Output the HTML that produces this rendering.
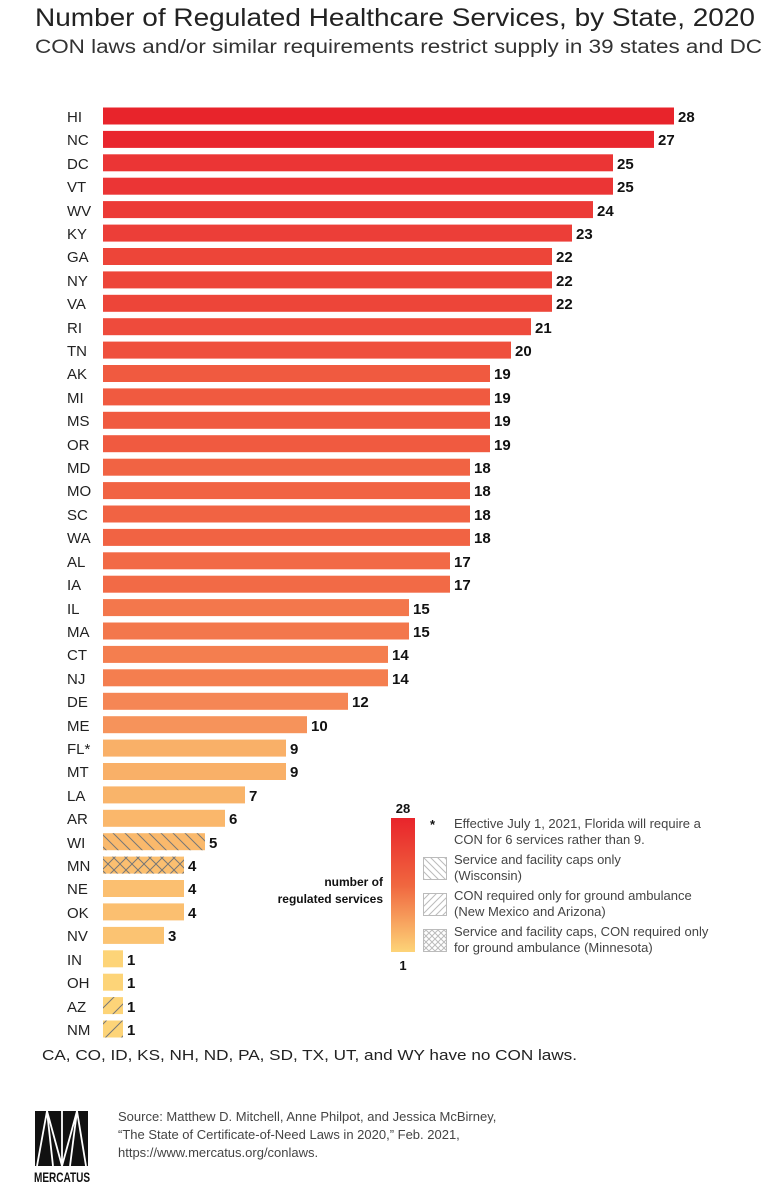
<!DOCTYPE html>
<html><head><meta charset="utf-8"><style>
html,body{margin:0;padding:0;background:#fff}
svg{display:block;font-family:"Liberation Sans",sans-serif}
</style></head><body>
<svg width="768" height="1185" viewBox="0 0 768 1185" xmlns="http://www.w3.org/2000/svg">
<defs>
<linearGradient id="lg" x1="0" y1="0" x2="0" y2="1">
<stop offset="0" stop-color="#e8242b"/><stop offset="0.5" stop-color="#f0663f"/><stop offset="1" stop-color="#fdd478"/>
</linearGradient>
<pattern id="pb" width="12" height="12" patternUnits="userSpaceOnUse"><path d="M-3,-3 L15,15 M-3,9 L3,15 M9,-3 L15,3" stroke="#777" stroke-width="1"/></pattern>
<pattern id="pf" width="16" height="16" patternUnits="userSpaceOnUse" patternTransform="translate(103,0)"><path d="M0,16 L16,0 M-4,4 L4,-4 M12,20 L20,12" stroke="#777" stroke-width="1"/></pattern>
<pattern id="px" width="12" height="12" patternUnits="userSpaceOnUse"><path d="M0,0 L12,12 M12,0 L0,12" stroke="#777" stroke-width="1"/></pattern>
<pattern id="lb" width="7" height="7" patternUnits="userSpaceOnUse"><path d="M-2,-2 L9,9 M-2,5 L2,9 M5,-2 L9,2" stroke="#bbb" stroke-width="1"/></pattern>
<pattern id="lf" width="7" height="7" patternUnits="userSpaceOnUse"><path d="M0,7 L7,0 M-2,2 L2,-2 M5,9 L9,5" stroke="#bbb" stroke-width="1"/></pattern>
<pattern id="lx" width="6" height="6" patternUnits="userSpaceOnUse"><path d="M0,0 L6,6 M6,0 L0,6" stroke="#bbb" stroke-width="1"/></pattern>
</defs>
<text x="35" y="26" font-size="25" fill="#222" textLength="720" lengthAdjust="spacingAndGlyphs">Number of Regulated Healthcare Services, by State, 2020</text>
<text x="35" y="53" font-size="19" fill="#333" textLength="727" lengthAdjust="spacingAndGlyphs">CON laws and/or similar requirements restrict supply in 39 states and DC</text>

<g font-size="15" fill="#222">
<text x="67" y="122">HI</text><text x="67" y="145">NC</text><text x="67" y="169">DC</text><text x="67" y="192">VT</text><text x="67" y="216">WV</text><text x="67" y="239">KY</text><text x="67" y="262">GA</text><text x="67" y="286">NY</text><text x="67" y="309">VA</text><text x="67" y="333">RI</text><text x="67" y="356">TN</text><text x="67" y="379">AK</text><text x="67" y="403">MI</text><text x="67" y="426">MS</text><text x="67" y="450">OR</text><text x="67" y="473">MD</text><text x="67" y="496">MO</text><text x="67" y="520">SC</text><text x="67" y="543">WA</text><text x="67" y="567">AL</text><text x="67" y="590">IA</text><text x="67" y="614">IL</text><text x="67" y="637">MA</text><text x="67" y="660">CT</text><text x="67" y="684">NJ</text><text x="67" y="707">DE</text><text x="67" y="731">ME</text><text x="67" y="754">FL*</text><text x="67" y="777">MT</text><text x="67" y="801">LA</text><text x="67" y="824">AR</text><text x="67" y="848">WI</text><text x="67" y="871">MN</text><text x="67" y="894">NE</text><text x="67" y="918">OK</text><text x="67" y="941">NV</text><text x="67" y="965">IN</text><text x="67" y="988">OH</text><text x="67" y="1012">AZ</text><text x="67" y="1035">NM</text>
</g>

<g>
<rect x="103" y="107.5" width="571" height="17" fill="#e8242b"/>
<rect x="103" y="130.9" width="551" height="17" fill="#e9262e"/>
<rect x="103" y="154.3" width="510" height="17" fill="#eb3535"/>
<rect x="103" y="177.7" width="510" height="17" fill="#eb3535"/>
<rect x="103" y="201.1" width="490" height="17" fill="#ec3a36"/>
<rect x="103" y="224.6" width="469" height="17" fill="#ec3e38"/>
<rect x="103" y="248.0" width="449" height="17" fill="#ed4539"/>
<rect x="103" y="271.4" width="449" height="17" fill="#ed4539"/>
<rect x="103" y="294.8" width="449" height="17" fill="#ed4539"/>
<rect x="103" y="318.2" width="428" height="17" fill="#ee4b3c"/>
<rect x="103" y="341.6" width="408" height="17" fill="#ef503d"/>
<rect x="103" y="365.0" width="387" height="17" fill="#f05a40"/>
<rect x="103" y="388.4" width="387" height="17" fill="#f05a40"/>
<rect x="103" y="411.8" width="387" height="17" fill="#f05a40"/>
<rect x="103" y="435.2" width="387" height="17" fill="#f05a40"/>
<rect x="103" y="458.7" width="367" height="17" fill="#f16343"/>
<rect x="103" y="482.1" width="367" height="17" fill="#f16343"/>
<rect x="103" y="505.5" width="367" height="17" fill="#f16343"/>
<rect x="103" y="528.9" width="367" height="17" fill="#f16343"/>
<rect x="103" y="552.3" width="347" height="17" fill="#f26a46"/>
<rect x="103" y="575.7" width="347" height="17" fill="#f26a46"/>
<rect x="103" y="599.1" width="306" height="17" fill="#f3774c"/>
<rect x="103" y="622.5" width="306" height="17" fill="#f3774c"/>
<rect x="103" y="645.9" width="285" height="17" fill="#f47e4f"/>
<rect x="103" y="669.3" width="285" height="17" fill="#f47e4f"/>
<rect x="103" y="692.8" width="245" height="17" fill="#f58655"/>
<rect x="103" y="716.2" width="204" height="17" fill="#f6935b"/>
<rect x="103" y="739.6" width="183" height="17" fill="#f9b068"/>
<rect x="103" y="763.0" width="183" height="17" fill="#f9b068"/>
<rect x="103" y="786.4" width="142" height="17" fill="#f9b46a"/>
<rect x="103" y="809.8" width="122" height="17" fill="#fab76b"/>
<rect x="103" y="833.2" width="102" height="17" fill="#fab96c"/>
<rect x="103" y="833.2" width="102" height="17" fill="url(#pb)"/>
<rect x="103" y="856.6" width="81" height="17" fill="#fbbf70"/>
<rect x="103" y="856.6" width="81" height="17" fill="url(#px)"/>
<rect x="103" y="880.0" width="81" height="17" fill="#fbbf70"/>
<rect x="103" y="903.4" width="81" height="17" fill="#fbbf70"/>
<rect x="103" y="926.9" width="61" height="17" fill="#fbc372"/>
<rect x="103" y="950.3" width="20" height="17" fill="#fdd478"/>
<rect x="103" y="973.7" width="20" height="17" fill="#fdd478"/>
<rect x="103" y="997.1" width="20" height="17" fill="#fdd478"/>
<rect x="103" y="997.1" width="20" height="17" fill="url(#pf)"/>
<rect x="103" y="1020.5" width="20" height="17" fill="#fdd478"/>
<rect x="103" y="1020.5" width="20" height="17" fill="url(#pf)"/>
</g>

<g font-size="15" font-weight="bold" fill="#111">
<text x="678" y="122">28</text><text x="658" y="145">27</text><text x="617" y="169">25</text><text x="617" y="192">25</text><text x="597" y="216">24</text><text x="576" y="239">23</text><text x="556" y="262">22</text><text x="556" y="286">22</text><text x="556" y="309">22</text><text x="535" y="333">21</text><text x="515" y="356">20</text><text x="494" y="379">19</text><text x="494" y="403">19</text><text x="494" y="426">19</text><text x="494" y="450">19</text><text x="474" y="473">18</text><text x="474" y="496">18</text><text x="474" y="520">18</text><text x="474" y="543">18</text><text x="454" y="567">17</text><text x="454" y="590">17</text><text x="413" y="614">15</text><text x="413" y="637">15</text><text x="392" y="660">14</text><text x="392" y="684">14</text><text x="352" y="707">12</text><text x="311" y="731">10</text><text x="290" y="754">9</text><text x="290" y="777">9</text><text x="249" y="801">7</text><text x="229" y="824">6</text><text x="209" y="848">5</text><text x="188" y="871">4</text><text x="188" y="894">4</text><text x="188" y="918">4</text><text x="168" y="941">3</text><text x="127" y="965">1</text><text x="127" y="988">1</text><text x="127" y="1012">1</text><text x="127" y="1035">1</text>
</g>

<text x="42" y="1060" font-size="15" fill="#222" textLength="535" lengthAdjust="spacingAndGlyphs">CA, CO, ID, KS, NH, ND, PA, SD, TX, UT, and WY have no CON laws.</text>

<!-- legend -->
<rect x="391" y="818" width="24" height="134" fill="url(#lg)"/>
<text x="403" y="813" font-size="13" font-weight="bold" fill="#111" text-anchor="middle">28</text>
<text x="403" y="970" font-size="13" font-weight="bold" fill="#111" text-anchor="middle">1</text>
<text x="383" y="886" font-size="12" font-weight="bold" fill="#111" text-anchor="end">number of</text>
<text x="383" y="903" font-size="12" font-weight="bold" fill="#111" text-anchor="end">regulated services</text>
<g font-size="13" fill="#444">
<text x="430" y="829" font-weight="bold" fill="#111">*</text>
<text x="454" y="828">Effective July 1, 2021, Florida will require a</text>
<text x="454" y="844">CON for 6 services rather than 9.</text>
<rect x="423.5" y="857.5" width="23" height="22" fill="url(#lb)" stroke="#bbb"/>
<text x="454" y="864">Service and facility caps only</text>
<text x="454" y="880">(Wisconsin)</text>
<rect x="423.5" y="893.5" width="23" height="22" fill="url(#lf)" stroke="#bbb"/>
<text x="454" y="900">CON required only for ground ambulance</text>
<text x="454" y="916">(New Mexico and Arizona)</text>
<rect x="423.5" y="929.5" width="23" height="22" fill="url(#lx)" stroke="#bbb"/>
<text x="454" y="936">Service and facility caps, CON required only</text>
<text x="454" y="952">for ground ambulance (Minnesota)</text>
</g>

<!-- logo -->
<rect x="35" y="1111" width="53" height="55" fill="#111"/>
<path d="M37,1166 L47,1111 L62,1166 M47,1111 L53,1166 M62,1166 L77,1111 L86,1166 M77,1111 L70,1166 M62,1111 L62,1166" stroke="#fff" stroke-width="1.8" fill="none"/>
<text x="34" y="1182" font-size="14" font-weight="bold" fill="#111" textLength="56" lengthAdjust="spacingAndGlyphs">MERCATUS</text>

<g font-size="13" fill="#444">
<text x="118" y="1121">Source: Matthew D. Mitchell, Anne Philpot, and Jessica McBirney,</text>
<text x="118" y="1139">“The State of Certificate-of-Need Laws in 2020,” Feb. 2021,</text>
<text x="118" y="1157">https://www.mercatus.org/conlaws.</text>
</g>
</svg>
</body></html>
